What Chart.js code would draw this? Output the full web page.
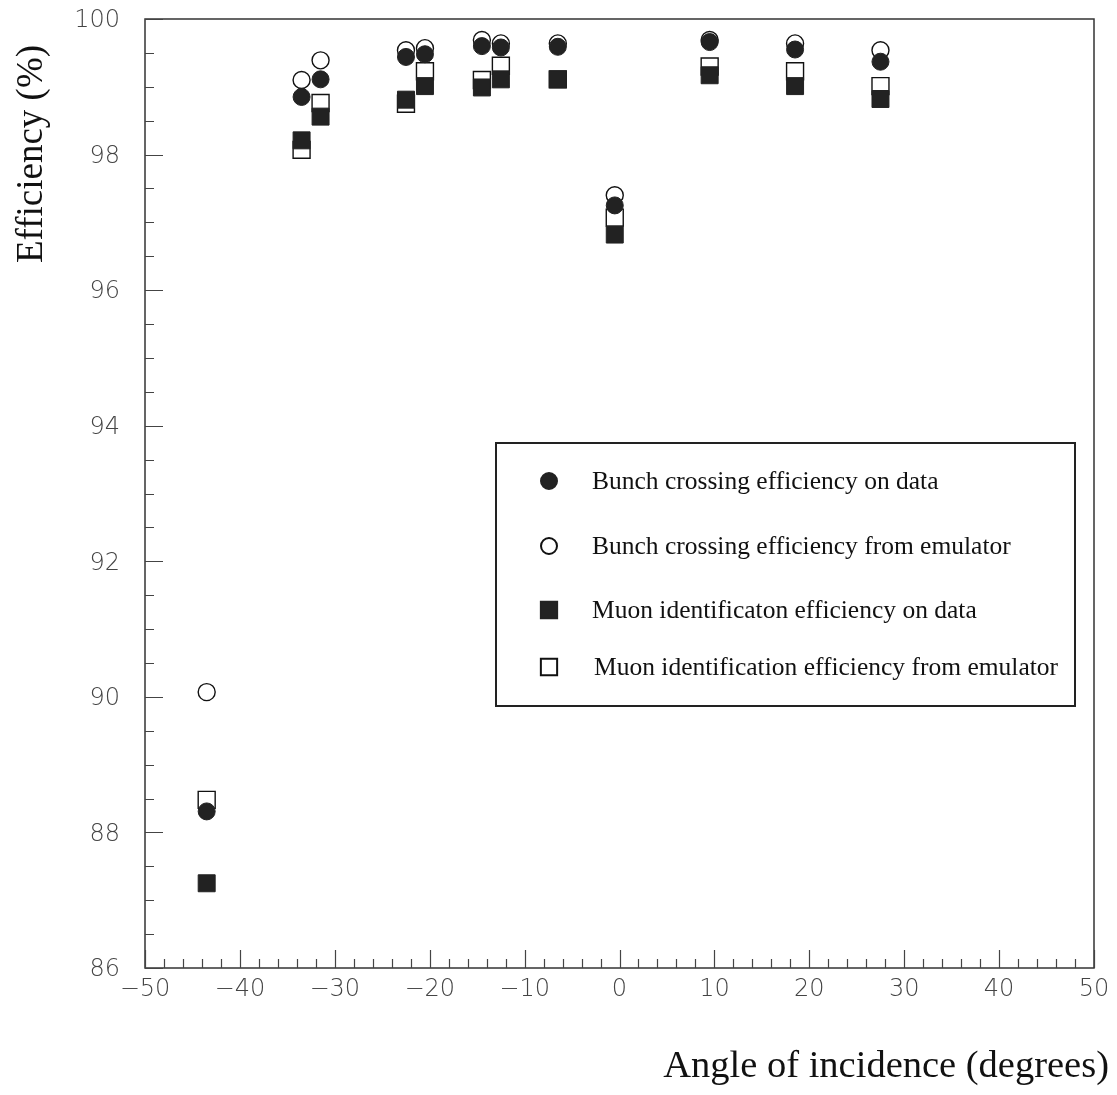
<!DOCTYPE html>
<html>
<head>
<meta charset="utf-8">
<script src="https://cdn.jsdelivr.net/npm/chart.js@4/dist/chart.umd.min.js"></script>
<style>
html,body{margin:0;padding:0;background:#fff;}
canvas{display:block;}
</style>
</head>
<body>
<canvas id="c" width="1117" height="1095"></canvas>
<script>
// ---- data ----
const angles = [-43.5, -33.5, -31.5, -22.5, -20.5, -14.5, -12.5, -6.5, -0.5, 9.5, 18.5, 27.5];
const bunchData = [88.31, 98.85, 99.11, 99.44, 99.48, 99.60, 99.58, 99.59, 97.25, 99.66, 99.55, 99.37];
const bunchEmu  = [90.07, 99.10, 99.39, 99.54, 99.57, 99.69, 99.64, 99.64, 97.40, 99.69, 99.64, 99.54];
const muonData  = [87.25, 98.21, 98.56, 98.81, 99.01, 98.99, 99.11, 99.11, 96.82, 99.17, 99.01, 98.82];
const muonEmu   = [88.48, 98.07, 98.76, 98.75, 99.23, 99.10, 99.31, 99.11, 97.07, 99.30, 99.23, 99.01];

const seriesNames = [
  'Bunch crossing efficiency on data',
  'Bunch crossing efficiency from emulator',
  'Muon identificaton efficiency on data',
  'Muon identification efficiency from emulator'
];
const xTicks = [-50, -40, -30, -20, -10, 0, 10, 20, 30, 40, 50];
const yTicks = [86, 88, 90, 92, 94, 96, 98, 100];
const xTitle = 'Angle of incidence (degrees)';
const yTitle = 'Efficiency (%)';

const pts = (ys) => angles.map((a, i) => ({x: a, y: ys[i]}));
const INK = '#222';

const fmt = v => (v < 0 ? '\u2212' + Math.abs(v) : String(v));

const framePlugin = {
  id: 'frame',
  beforeDatasetsDraw(chart) {
    const {ctx, chartArea: a, scales: {x, y}} = chart;
    ctx.save();
    ctx.strokeStyle = '#333';
    ctx.lineWidth = 1.5;
    ctx.strokeRect(a.left, a.top, a.right - a.left, a.bottom - a.top);
    ctx.lineWidth = 1.2;
    ctx.strokeStyle = '#444';
    ctx.beginPath();
    // x ticks (inward from bottom), minor every 2, major every 10
    for (let v = x.min; v <= x.max + 1e-9; v += 2) {
      const px = Math.round(x.getPixelForValue(v)) + 0.5;
      const len = (Math.abs(v % 10) < 1e-9) ? 18 : 9;
      ctx.moveTo(px, a.bottom);
      ctx.lineTo(px, a.bottom - len);
    }
    // y ticks (inward from left), minor every 0.5, major every 2
    for (let v = y.min; v <= y.max + 1e-9; v += 0.5) {
      const py = Math.round(y.getPixelForValue(v)) + 0.5;
      const len = (Math.abs(v % 2) < 1e-9) ? 18 : 9;
      ctx.moveTo(a.left, py);
      ctx.lineTo(a.left + len, py);
    }
    ctx.stroke();
    ctx.restore();
  },
  afterDraw(chart) {
    const {ctx} = chart;
    ctx.save();
    ctx.fillStyle = '#111';
    ctx.font = '38.5px "Liberation Serif", "Times New Roman", serif';
    // x title, right aligned
    ctx.textAlign = 'right';
    ctx.textBaseline = 'alphabetic';
    ctx.fillText(xTitle, 1109, 1077);
    // y title, rotated
    ctx.font = '37px "Liberation Serif", "Times New Roman", serif';
    ctx.translate(42, 154);
    ctx.rotate(-Math.PI / 2);
    ctx.textAlign = 'center';
    ctx.fillText(yTitle, 0, 0);
    ctx.restore();

    // legend box
    ctx.save();
    const bx = 496, by = 443, bw = 579, bh = 263;
    ctx.fillStyle = '#fff';
    ctx.fillRect(bx, by, bw, bh);
    ctx.strokeStyle = '#222';
    ctx.lineWidth = 2;
    ctx.strokeRect(bx, by, bw, bh);
    const rowsY = [481, 546, 610, 667];
    const textX = [592, 592, 592, 594];
    chart.data.datasets.forEach((ds, i) => {
      ctx.fillStyle = ds.backgroundColor;
      ctx.strokeStyle = ds.borderColor;
      Chart.helpers.drawPoint(ctx, {
        pointStyle: ds.pointStyle,
        radius: ds.pointStyle === 'rect' ? 11.5 : 8,
        rotation: 0,
        borderWidth: ds.borderWidth
      }, 549, rowsY[i]);
      ctx.fillStyle = '#111';
      ctx.font = '25.5px "Liberation Serif", "Times New Roman", serif';
      ctx.textAlign = 'left';
      ctx.textBaseline = 'middle';
      ctx.fillText(ds.label, textX[i], rowsY[i] + 1);
    });
    ctx.restore();
  }
};

const tickFont = {family: '"DejaVu Sans", "Liberation Sans", sans-serif', size: 24, weight: '300'};

new Chart(document.getElementById('c'), {
  type: 'scatter',
  data: {
    datasets: [
      {label: seriesNames[0], data: pts(bunchData), pointStyle: 'circle', pointRadius: 8.5,
       backgroundColor: INK, borderColor: INK, borderWidth: 1, order: 0},
      {label: seriesNames[1], data: pts(bunchEmu), pointStyle: 'circle', pointRadius: 8.5,
       backgroundColor: '#fff', borderColor: '#111', borderWidth: 1.4, order: 3},
      {label: seriesNames[2], data: pts(muonData), pointStyle: 'rect', pointRadius: 12,
       backgroundColor: INK, borderColor: INK, borderWidth: 1, order: 1},
      {label: seriesNames[3], data: pts(muonEmu), pointStyle: 'rect', pointRadius: 12,
       backgroundColor: '#fff', borderColor: '#111', borderWidth: 1.4, order: 2}
    ]
  },
  options: {
    responsive: false,
    animation: false,
    events: [],
    layout: {padding: {top: 19, right: 23, left: 0, bottom: 0}},
    plugins: {legend: {display: false}, tooltip: {enabled: false}},
    scales: {
      x: {
        type: 'linear', min: -50, max: 50, position: 'bottom',
        afterBuildTicks: s => { s.ticks = xTicks.map(v => ({value: v})); },
        afterFit: s => { s.height = 127; s.paddingLeft = 0; s.paddingRight = 0; },
        grid: {display: false, drawTicks: false},
        border: {display: false},
        ticks: {callback: v => fmt(v), font: tickFont, color: '#444', padding: 7,
                maxRotation: 0, autoSkip: false}
      },
      y: {
        type: 'linear', min: 86, max: 100, position: 'left',
        afterBuildTicks: s => { s.ticks = yTicks.map(v => ({value: v})); },
        afterFit: s => { s.width = 145; s.paddingTop = 0; s.paddingBottom = 0; },
        grid: {display: false, drawTicks: false},
        border: {display: false},
        ticks: {callback: v => fmt(v), font: tickFont, color: '#444', padding: 25, labelOffset: 2}
      }
    }
  },
  plugins: [framePlugin]
});
</script>
</body>
</html>
